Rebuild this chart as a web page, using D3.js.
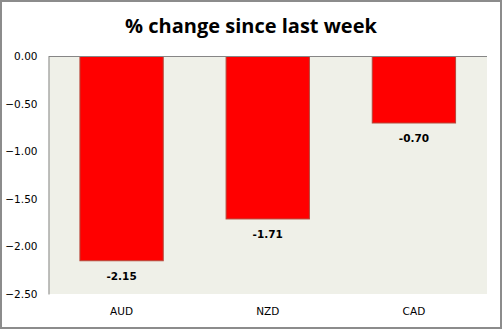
<!DOCTYPE html>
<html><head><meta charset="utf-8">
<script src="https://cdn.jsdelivr.net/npm/d3@7"></script>
<style>html,body{margin:0;padding:0;background:#fff;}svg{display:block;}</style>
</head><body>
<script>
const categories = ["AUD", "NZD", "CAD"];
const values = [-2.15, -1.71, -0.70];
const yTicks = [0, -0.5, -1.0, -1.5, -2.0, -2.5];
const title = "% change since last week";

const W = 502, H = 329;
const svg = d3.select("body").append("svg").attr("width", W).attr("height", H);
svg.append("rect").attr("x", 1).attr("y", 1).attr("width", W - 2).attr("height", H - 2)
  .attr("fill", "#fff").attr("stroke", "#8c8c8c").attr("stroke-width", 2);

const plot = {left: 48.5, right: 487, top: 56.5, bottom: 294};
const x = d3.scaleBand().domain(categories).range([plot.left, plot.right]).paddingInner(0.43).paddingOuter(0.215);
const y = d3.scaleLinear().domain([0, -2.5]).range([plot.top, plot.bottom]);

svg.append("rect").attr("x", plot.left).attr("y", plot.top).attr("width", plot.right - plot.left)
  .attr("height", plot.bottom - plot.top).attr("fill", "#eff0e8");

svg.append("text").attr("x", 251).attr("y", 33).attr("text-anchor", "middle")
  .attr("font-family", "'Open Sans', sans-serif").attr("font-weight", "bold").attr("font-size", 20)
  .attr("fill", "#000").text(title);

svg.selectAll("rect.bar").data(values).enter().append("rect").attr("class", "bar")
  .attr("x", (d, i) => x(categories[i])).attr("width", x.bandwidth())
  .attr("y", y(0)).attr("height", d => y(d) - y(0))
  .attr("fill", "#ff0000").attr("stroke", "#b5483a").attr("stroke-width", 1);

svg.selectAll("text.val").data(values).enter().append("text").attr("class", "val")
  .attr("x", (d, i) => x(categories[i]) + x.bandwidth() / 2).attr("y", d => y(d) + 19)
  .attr("text-anchor", "middle").attr("font-family", "'DejaVu Sans', sans-serif")
  .attr("font-weight", "bold").attr("font-size", 10.5).attr("fill", "#000")
  .text(d => d.toFixed(2));

const yAxis = svg.append("g").attr("transform", `translate(${plot.left},0)`)
  .call(d3.axisLeft(y).tickValues(yTicks).tickSize(0).tickPadding(11).tickFormat(d3.format(".2f")));
yAxis.select(".domain").attr("stroke", "#868686");
yAxis.selectAll("text").attr("font-family", "'DejaVu Sans', sans-serif").attr("font-size", 10.5).attr("fill", "#000");

svg.append("line").attr("x1", plot.left).attr("x2", plot.right).attr("y1", y(0)).attr("y2", y(0))
  .attr("stroke", "#868686").attr("stroke-width", 1);

const xAxis = svg.append("g").attr("transform", `translate(0,${plot.bottom})`)
  .call(d3.axisBottom(x).tickSize(0).tickPadding(14));
xAxis.select(".domain").remove();
xAxis.selectAll("text").attr("font-family", "'DejaVu Sans', sans-serif").attr("font-size", 10.5).attr("fill", "#000");
</script>
</body></html>
